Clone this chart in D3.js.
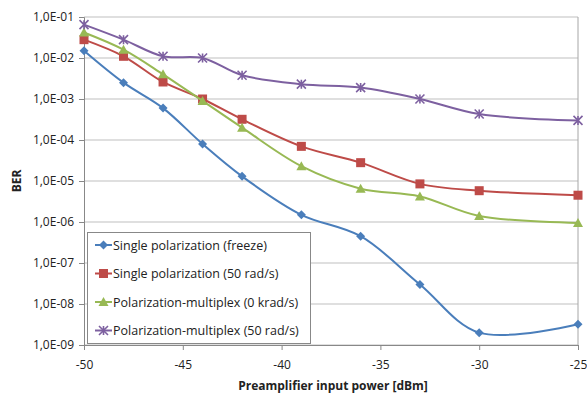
<!DOCTYPE html>
<html>
<head>
<meta charset="utf-8">
<script src="https://cdn.jsdelivr.net/npm/d3@7"></script>
<style>
  body { margin: 0; background: #fff; }
  text { font-family: "Open Sans", "DejaVu Sans", sans-serif; }
</style>
</head>
<body>
<svg id="chart" width="587" height="396"></svg>
<script>
// input power [dBm]
const power = [-50, -48, -46, -44, -42, -39, -36, -33, -30, -25];

const berFreeze = [1.5e-2, 2.5e-3, 6e-4, 8e-5, 1.3e-5, 1.5e-6, 4.5e-7, 3e-8, 2e-9, 3.2e-9];
const ber50 = [2.8e-2, 1.1e-2, 2.6e-3, 1.0e-3, 3.2e-4, 7e-5, 2.8e-5, 8.5e-6, 5.8e-6, 4.5e-6];
const berPm0 = [4.2e-2, 1.6e-2, 4e-3, 9e-4, 2e-4, 2.3e-5, 6.5e-6, 4.2e-6, 1.4e-6, 9.5e-7];
const berPm50 = [6.5e-2, 2.8e-2, 1.1e-2, 1.0e-2, 3.8e-3, 2.3e-3, 1.9e-3, 1.0e-3, 4.3e-4, 3.0e-4];

const seriesNames = [
  "Single polarization (freeze)",
  "Single polarization (50 rad/s)",
  "Polarization-multiplex (0 krad/s)",
  "Polarization-multiplex (50 rad/s)"
];
const seriesColors = ["#4a7ebb", "#be4b48", "#98b954", "#7d60a0"];
const seriesMarkers = ["diamond", "square", "triangle", "cross"];

const xTicks = [-50, -45, -40, -35, -30, -25];
const yTicks = [1e-1, 1e-2, 1e-3, 1e-4, 1e-5, 1e-6, 1e-7, 1e-8, 1e-9];

const svg = d3.select("#chart");
const margin = { left: 84, right: 9, top: 17, bottom: 51 };
const W = 587, H = 396;

const x = d3.scaleLinear().domain([-50, -25]).range([margin.left, W - margin.right]);
const y = d3.scaleLog().domain([1e-9, 1e-1]).range([H - margin.bottom, margin.top]);

const fmt = v => "1,0E-0" + Math.round(-Math.log10(v));

// gridlines
svg.append("g")
  .selectAll("line").data(yTicks).enter().append("line")
  .attr("x1", x(-50)).attr("x2", x(-25))
  .attr("y1", d => y(d)).attr("y2", d => y(d))
  .attr("stroke", "#bfbfbf").attr("stroke-width", 1);

// right frame
svg.append("line")
  .attr("x1", x(-25)).attr("x2", x(-25))
  .attr("y1", y(1e-1)).attr("y2", y(1e-9))
  .attr("stroke", "#a6a6a6");

// axes
const yAxis = svg.append("g")
  .attr("transform", `translate(${x(-50)},0)`)
  .call(d3.axisLeft(y).tickValues(yTicks).tickFormat(fmt).tickSize(5).tickPadding(5));
const xAxis = svg.append("g")
  .attr("transform", `translate(0,${y(1e-9)})`)
  .call(d3.axisBottom(x).tickValues(xTicks).tickFormat(d3.format("d")).tickSize(5).tickPadding(10));

[yAxis, xAxis].forEach(a => {
  a.select(".domain").attr("stroke", "#888");
  a.selectAll(".tick line").attr("stroke", "#888");
  a.selectAll(".tick text").attr("font-size", 12).attr("fill", "#222")
    .attr("font-family", '"Open Sans", sans-serif');
});
xAxis.selectAll(".tick text").text(d => d < 0 ? "-" + Math.abs(d) : d);

// axis titles
svg.append("text")
  .attr("transform", `translate(21,${(y(1e-1) + y(1e-9)) / 2}) rotate(-90)`)
  .attr("text-anchor", "middle")
  .attr("font-size", 12).attr("font-weight", "bold").attr("fill", "#222")
  .text("BER");
svg.append("text")
  .attr("x", (x(-50) + x(-25)) / 2 + 2).attr("y", 390)
  .attr("text-anchor", "middle")
  .attr("font-size", 12).attr("font-weight", "bold").attr("fill", "#222")
  .text("Preamplifier input power [dBm]");

const allSeries = [berFreeze, ber50, berPm0, berPm50];

const line = d3.line()
  .x(d => x(d[0])).y(d => y(d[1]))
  .curve(d3.curveCatmullRom.alpha(0.5));

function drawMarker(g, type, color, cx, cy) {
  if (type === "diamond") {
    g.append("path").attr("d", `M${cx},${cy - 4.5}L${cx + 4.5},${cy}L${cx},${cy + 4.5}L${cx - 4.5},${cy}Z`)
      .attr("fill", color);
  } else if (type === "square") {
    g.append("rect").attr("x", cx - 4.5).attr("y", cy - 4.5).attr("width", 9).attr("height", 9)
      .attr("fill", color);
  } else if (type === "triangle") {
    g.append("path").attr("d", `M${cx},${cy - 5}L${cx + 5},${cy + 4}L${cx - 5},${cy + 4}Z`)
      .attr("fill", color);
  } else {
    g.append("path").attr("d", `M${cx - 4.5},${cy - 4.5}L${cx + 4.5},${cy + 4.5}M${cx - 4.5},${cy + 4.5}L${cx + 4.5},${cy - 4.5}M${cx},${cy - 4.5}L${cx},${cy + 4.5}`)
      .attr("stroke", color).attr("stroke-width", 1.6).attr("fill", "none");
  }
}

allSeries.forEach((vals, i) => {
  const pts = power.map((p, j) => [p, vals[j]]);
  const g = svg.append("g");
  g.append("path").datum(pts)
    .attr("d", line)
    .attr("fill", "none")
    .attr("stroke", seriesColors[i])
    .attr("stroke-width", 2);
  pts.forEach(d => drawMarker(g, seriesMarkers[i], seriesColors[i], x(d[0]), y(d[1])));
});

// legend
const lg = svg.append("g");
lg.append("rect")
  .attr("x", 87.5).attr("y", 232.5).attr("width", 223).attr("height", 111)
  .attr("fill", "#fff").attr("stroke", "#888");
seriesNames.forEach((name, i) => {
  const ly = 245 + i * 28.5;
  lg.append("line").attr("x1", 95).attr("x2", 112).attr("y1", ly).attr("y2", ly)
    .attr("stroke", seriesColors[i]).attr("stroke-width", 2);
  drawMarker(lg, seriesMarkers[i], seriesColors[i], 103.5, ly);
  lg.append("text").attr("x", 113).attr("y", ly + 4.5)
    .attr("font-size", 12.5).attr("fill", "#222")
    .text(name);
});
</script>
</body>
</html>
